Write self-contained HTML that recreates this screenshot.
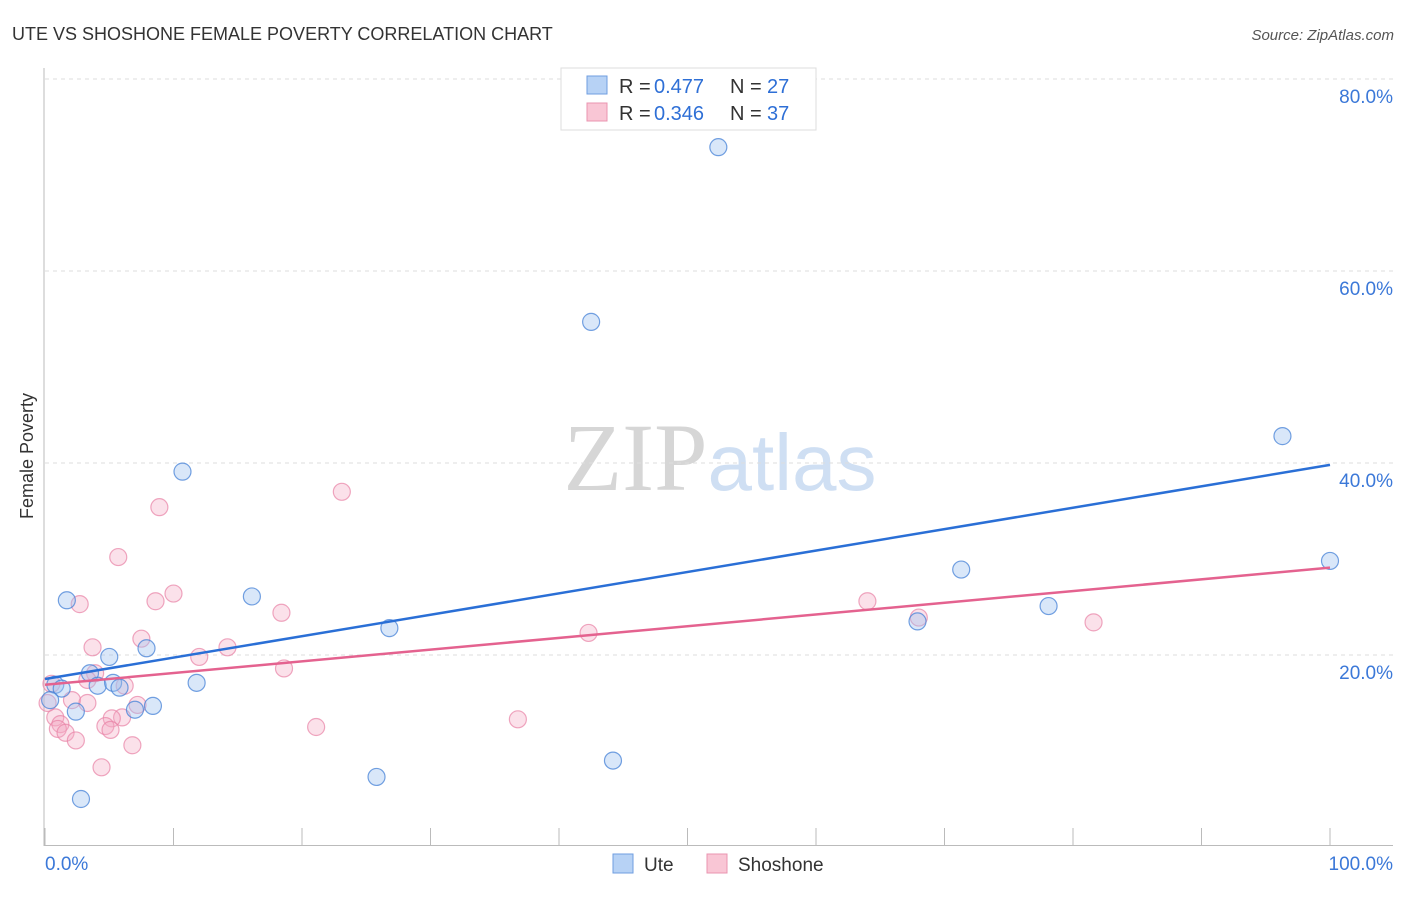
<!DOCTYPE html>
<html><head><meta charset="utf-8"><style>
body{margin:0;background:#fff;font-family:"Liberation Sans",sans-serif}
svg text{font-family:"Liberation Sans",sans-serif}
</style></head><body>
<svg id="chart" width="1406" height="892" xmlns="http://www.w3.org/2000/svg">
<text x="12" y="40" font-size="18" fill="#333">UTE VS SHOSHONE FEMALE POVERTY CORRELATION CHART</text>
<text x="1394" y="40" font-size="15" fill="#555" text-anchor="end" font-style="italic">Source: ZipAtlas.com</text>
<text x="720" y="490" font-size="96" text-anchor="middle"><tspan font-family="Liberation Serif" fill="#d6d6d6">ZIP</tspan><tspan fill="#cfdff3" font-size="80">atlas</tspan></text>
<g id="grid"></g>
<g id="axes"></g>
<g id="pts"></g>
<g id="lines"></g>
<text transform="translate(33,456) rotate(-90)" font-size="18" fill="#333" text-anchor="middle">Female Poverty</text>
<g>
<rect x="561" y="68" width="255" height="62" fill="#fff" stroke="#ddd"/>
<rect x="587" y="76" width="20" height="18" fill="#b7d2f5" stroke="#6f9ee0"/>
<text x="619" y="93" font-size="20" fill="#333">R =</text>
<text x="654" y="93" font-size="20" fill="#2e6fd6">0.477</text>
<text x="730" y="93" font-size="20" fill="#333">N =</text>
<text x="767" y="93" font-size="20" fill="#2e6fd6">27</text>
<rect x="587" y="103" width="20" height="18" fill="#f9c6d5" stroke="#ea94b0"/>
<text x="619" y="120" font-size="20" fill="#333">R =</text>
<text x="654" y="120" font-size="20" fill="#2e6fd6">0.346</text>
<text x="730" y="120" font-size="20" fill="#333">N =</text>
<text x="767" y="120" font-size="20" fill="#2e6fd6">37</text>
</g>
<g>
<rect x="613" y="854" width="20" height="19" fill="#b7d2f5" stroke="#6f9ee0"/>
<text x="644" y="871" font-size="19" fill="#333">Ute</text>
<rect x="707" y="854" width="20" height="19" fill="#f9c6d5" stroke="#ea94b0"/>
<text x="738" y="871" font-size="19" fill="#333">Shoshone</text>
</g>
</svg>
<script>
const uteX=[52.4,42.5,96.3,10.7,100,71.3,1.7,16.1,78.1,67.9,26.8,7.9,5.0,3.5,0.8,1.3,4.1,5.3,5.8,11.8,8.4,7.0,2.4,0.4,25.8,44.2,2.8];
const uteY=[72.9,54.7,42.8,39.1,29.8,28.9,25.7,26.1,25.1,23.5,22.8,20.7,19.8,18.1,16.9,16.5,16.8,17.1,16.6,17.1,14.7,14.3,14.1,15.3,7.3,9.0,5.0];
const shoX=[23.1,8.9,5.7,10.0,8.6,2.7,18.4,64.0,68.0,81.6,42.3,7.5,3.7,14.2,12.0,18.6,3.9,3.3,6.2,0.5,2.1,3.3,7.2,0.8,6.0,5.2,1.2,4.7,5.1,1.0,1.6,2.4,6.8,21.1,36.8,4.4,0.2];
const shoY=[37.0,35.4,30.2,26.4,25.6,25.3,24.4,25.6,23.9,23.4,22.3,21.7,20.8,20.8,19.8,18.6,18.1,17.4,16.8,17.0,15.3,15.0,14.8,13.5,13.5,13.4,12.8,12.6,12.2,12.3,11.9,11.1,10.6,12.5,13.3,8.3,15.0];
const uteTrend=[17.5,39.8];
const shoTrend=[16.9,29.1];
const yTicks=[20,40,60,80];
const yTickLabels=["20.0%","40.0%","60.0%","80.0%"];
const xTickLabels=["0.0%","100.0%"];
const NS="http://www.w3.org/2000/svg";
const sx=v=>45+v*12.85, sy=v=>847-v*9.6;
function mk(tag,attrs,parent){const e=document.createElementNS(NS,tag);for(const k in attrs)e.setAttribute(k,attrs[k]);document.getElementById(parent).appendChild(e);return e;}
yTicks.forEach((t,i)=>{
 const l=mk('line',{x1:45,x2:1393,y1:sy(t),y2:sy(t),stroke:'#ddd','stroke-dasharray':'4,4'},'grid');
 
 
 const tx=mk('text',{x:1393,y:sy(t)+24,'font-size':19,fill:'#3b78d8','text-anchor':'end'},'grid');
 tx.textContent=yTickLabels[i];
 
 
});
let a=mk('line',{x1:44,x2:44,y1:68,y2:846,stroke:'#bbb'},'axes');


a=mk('line',{x1:44,x2:1393,y1:845.5,y2:845.5,stroke:'#bbb'},'axes');


for(let i=0;i<=10;i++){const t=mk('line',{x1:sx(i*10),x2:sx(i*10),y1:828,y2:846,stroke:'#bbb'},'axes');
 
 }
[[0,'start',45],[100,'end',1393]].forEach((d,i)=>{const t=mk('text',{x:d[2],y:870,'font-size':19,fill:'#3b78d8','text-anchor':d[1]},'axes');t.textContent=xTickLabels[i];
 
 });
shoX.forEach((x,i)=>{const c=mk('circle',{cx:sx(x),cy:sy(shoY[i]),r:8.5,fill:'rgba(244,170,195,0.35)',stroke:'rgba(232,130,165,0.7)','stroke-width':1.2},'pts');
 
 });
uteX.forEach((x,i)=>{const c=mk('circle',{cx:sx(x),cy:sy(uteY[i]),r:8.5,fill:'rgba(160,195,240,0.4)',stroke:'rgba(70,130,215,0.75)','stroke-width':1.2},'pts');
 
 });
let l=mk('line',{x1:sx(0),x2:sx(100),y1:sy(shoTrend[0]),y2:sy(shoTrend[1]),stroke:'#e4628f','stroke-width':2.5},'lines');


l=mk('line',{x1:sx(0),x2:sx(100),y1:sy(uteTrend[0]),y2:sy(uteTrend[1]),stroke:'#2a6fd6','stroke-width':2.5},'lines');


</script>
</body></html>
